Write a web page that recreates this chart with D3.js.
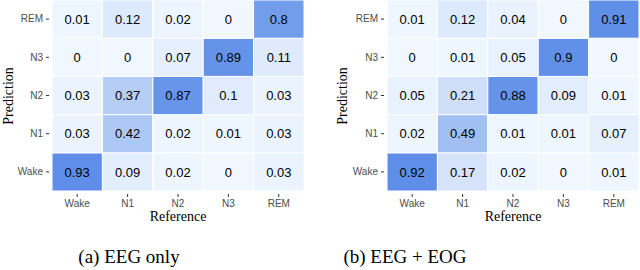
<!DOCTYPE html>
<html lang="en">
<head>
<meta charset="utf-8">
<title>Confusion matrices</title>
<script src="https://cdn.jsdelivr.net/npm/d3@7"></script>
<style>
  body { margin: 0; background: #fff; }
</style>
</head>
<body>
<script>

var stages = ["Wake", "N1", "N2", "N3", "REM"];

// rows = prediction (Wake..REM), columns = reference (Wake..REM)
var eegOnly = [
	[0.93, 0.09, 0.02, 0,    0.03],
	[0.03, 0.42, 0.02, 0.01, 0.03],
	[0.03, 0.37, 0.87, 0.1,  0.03],
	[0,    0,    0.07, 0.89, 0.11],
	[0.01, 0.12, 0.02, 0,    0.8 ]
];

var eegEog = [
	[0.92, 0.17, 0.02, 0,    0.01],
	[0.02, 0.49, 0.01, 0.01, 0.07],
	[0.05, 0.21, 0.88, 0.09, 0.01],
	[0,    0.01, 0.05, 0.9,  0   ],
	[0.01, 0.12, 0.04, 0,    0.91]
];

var captions = ["(a) EEG only", "(b) EEG + EOG"];

var sans = "'Liberation Sans', Arial, sans-serif";
var serif = "'Liberation Serif', 'Times New Roman', serif";

var svg = d3.select("body").append("svg")
	.attr("width", 640)
	.attr("height", 270);

var panels = [
	{data: eegOnly, caption: captions[0], left: 52, right: 304, titleX: 8, capX: 129},
	{data: eegEog, caption: captions[1], left: 387, right: 639, titleX: 342, capX: 405}
];

panels.forEach(function(p) {
	var g = svg.append("g");

	var x = d3.scaleBand().domain(stages).range([p.left, p.right]);
	var y = d3.scaleBand().domain(stages).range([191, 0]);

	var cells = [];
	p.data.forEach(function(row, i) {
		row.forEach(function(v, j) {
			cells.push({pred: stages[i], ref: stages[j], value: v});
		});
	});

	var color = d3.scaleLinear()
		.domain([0, d3.max(cells, function(d) { return d.value; })])
		.range(["#f0f7ff", "#5e8ee8"]);

	g.selectAll(".cell").data(cells).enter()
		.append("rect")
		.attr("class", "cell")
		.attr("x", function(d) { return x(d.ref); })
		.attr("y", function(d) { return y(d.pred); })
		.attr("width", x.bandwidth())
		.attr("height", y.bandwidth())
		.attr("fill", function(d) { return color(d.value); })
		.attr("stroke", "#fff")
		.attr("stroke-width", 1);

	g.selectAll(".cellText").data(cells).enter()
		.append("text")
		.attr("class", "cellText")
		.attr("x", function(d) { return x(d.ref) + x.bandwidth() / 2; })
		.attr("y", function(d) { return y(d.pred) + y.bandwidth() / 2; })
		.attr("text-anchor", "middle")
		.attr("dy", "0.36em")
		.style("font-family", sans)
		.style("font-size", "13px")
		.attr("fill", "#000")
		.text(function(d) { return d.value; });

	var xAxis = g.append("g")
		.attr("transform", "translate(0,194)")
		.call(d3.axisBottom(x).tickSize(3).tickPadding(3));
	xAxis.select(".domain").remove();
	xAxis.selectAll("line").attr("stroke", "#333");

	var yAxis = g.append("g")
		.attr("transform", "translate(" + (p.left - 3) + ",0)")
		.call(d3.axisLeft(y).tickSize(3).tickPadding(3));
	yAxis.select(".domain").remove();
	yAxis.selectAll("line").attr("stroke", "#333");

	g.selectAll(".tick text")
		.style("font-family", sans)
		.style("font-size", "10px")
		.attr("fill", "#4d4d4d");

	g.append("text")
		.attr("x", (p.left + p.right) / 2)
		.attr("y", 221)
		.attr("text-anchor", "middle")
		.style("font-family", serif)
		.style("font-size", "14px")
		.attr("fill", "#000")
		.text("Reference");

	g.append("text")
		.attr("transform", "translate(" + (p.titleX + 5) + ",96) rotate(-90)")
		.attr("text-anchor", "middle")
		.style("font-family", serif)
		.style("font-size", "14px")
		.attr("fill", "#000")
		.text("Prediction");

	g.append("text")
		.attr("x", p.capX)
		.attr("y", 263)
		.attr("text-anchor", "middle")
		.style("font-family", serif)
		.style("font-size", "19px")
		.attr("fill", "#000")
		.text(p.caption);
});

</script>
</body>
</html>
